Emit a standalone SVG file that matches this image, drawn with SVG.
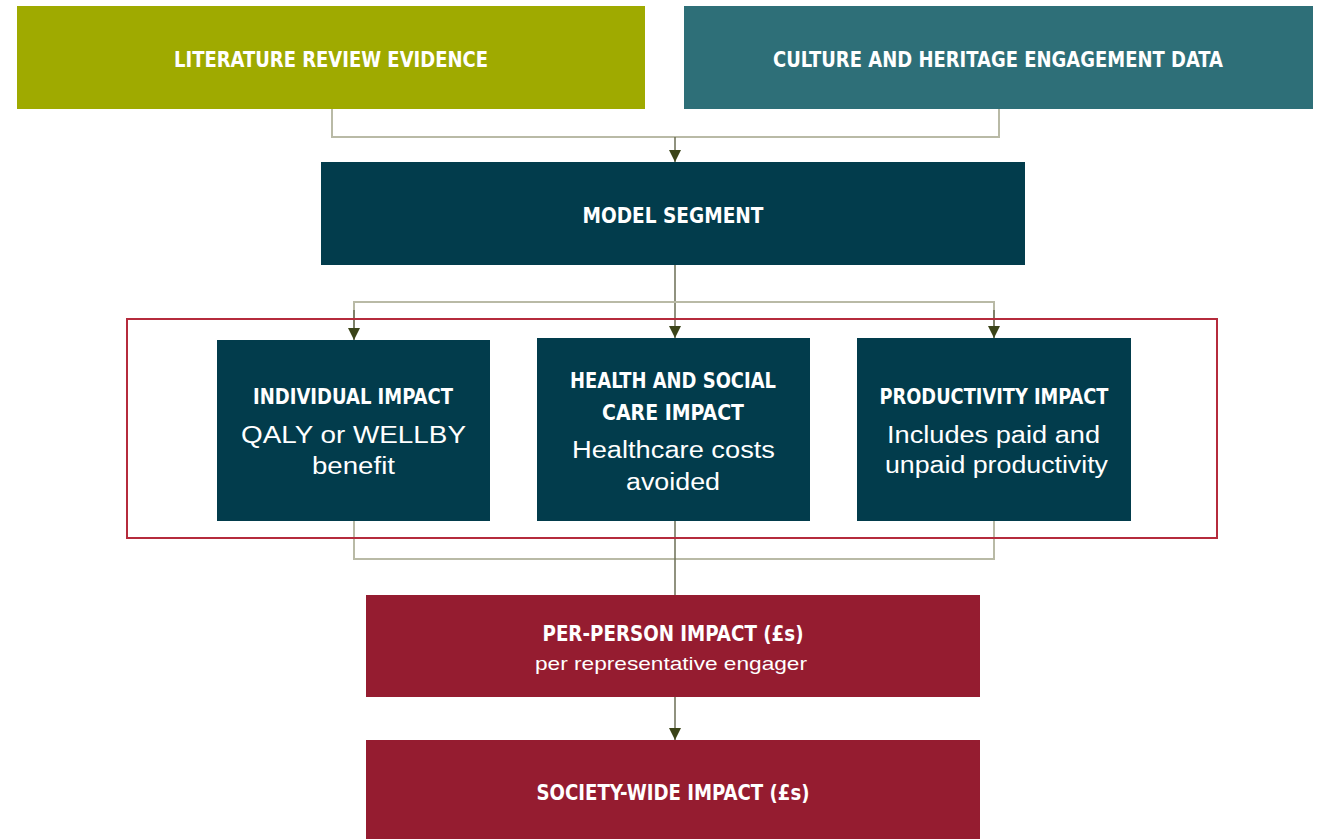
<svg xmlns="http://www.w3.org/2000/svg" width="1325" height="839" viewBox="0 0 1325 839">
<style>
.h{font-family:"Liberation Sans Narrow","DejaVu Sans Condensed","Liberation Sans",sans-serif;font-weight:bold;font-size:22px;fill:#fff;text-anchor:middle}
.b{font-family:"Liberation Sans",Arial,sans-serif;font-size:23px;fill:#fff;text-anchor:middle}
.s{font-family:"Liberation Sans",Arial,sans-serif;font-size:19px;fill:#fff;text-anchor:middle}
.ln{fill:none;stroke:#b9baa6;stroke-width:2}
.ld{fill:none;stroke:#6b6e55;stroke-width:1.5}
</style>
<defs>
<marker id="ah" viewBox="0 0 10 10" refX="10" refY="5" markerWidth="12" markerHeight="12" markerUnits="userSpaceOnUse" orient="auto">
<path d="M0,0 L10,5 L0,10 Z" fill="#3b4418"/>
</marker>
</defs>
<rect width="1325" height="839" fill="#fff"/>
<g id="connectors">
<polyline class="ln" points="332,109 332,137 999,137 999,109"/>
<line class="ld" x1="675" y1="137" x2="675" y2="162" marker-end="url(#ah)"/>
<line class="ld" x1="675" y1="265" x2="675" y2="338" marker-end="url(#ah)"/>
<polyline class="ln" points="354,339 354,302 994,302 994,338"/>
<line class="ld" x1="354" y1="310" x2="354" y2="340" marker-end="url(#ah)"/>
<line class="ld" x1="994" y1="310" x2="994" y2="338" marker-end="url(#ah)"/>
<polyline class="ln" points="354,521 354,559 994,559 994,521"/>
<line class="ld" x1="675" y1="521" x2="675" y2="595"/>
<line class="ld" x1="675" y1="697" x2="675" y2="740" marker-end="url(#ah)"/>
</g>
<rect id="frame" x="127" y="319" width="1090" height="219" fill="none" stroke="#b52b3c" stroke-width="2"/>
<g id="literature">
<rect x="17" y="6" width="628" height="103" fill="#9faa00"/>
<text class="h" x="331" y="67" textLength="314" lengthAdjust="spacingAndGlyphs">LITERATURE REVIEW EVIDENCE</text>
</g>
<g id="culture">
<rect x="684" y="6" width="629" height="103" fill="#2e6f78"/>
<text class="h" x="998" y="67" textLength="450" lengthAdjust="spacingAndGlyphs">CULTURE AND HERITAGE ENGAGEMENT DATA</text>
</g>
<g id="model">
<rect x="321" y="162" width="704" height="103" fill="#023c4c"/>
<text class="h" x="673" y="223" textLength="181" lengthAdjust="spacingAndGlyphs">MODEL SEGMENT</text>
</g>
<g id="individual">
<rect x="217" y="340" width="273" height="181" fill="#023c4c"/>
<text class="h" x="353" y="404" textLength="200" lengthAdjust="spacingAndGlyphs">INDIVIDUAL IMPACT</text>
<text class="b" x="353.5" y="443" textLength="225" lengthAdjust="spacingAndGlyphs">QALY or WELLBY</text>
<text class="b" x="353.5" y="474" textLength="83" lengthAdjust="spacingAndGlyphs">benefit</text>
</g>
<g id="health">
<rect x="537" y="338" width="273" height="183" fill="#023c4c"/>
<text class="h" x="673" y="388" textLength="206" lengthAdjust="spacingAndGlyphs">HEALTH AND SOCIAL</text>
<text class="h" x="673" y="420" textLength="142" lengthAdjust="spacingAndGlyphs">CARE IMPACT</text>
<text class="b" x="673.5" y="458" textLength="203" lengthAdjust="spacingAndGlyphs">Healthcare costs</text>
<text class="b" x="673" y="490" textLength="94" lengthAdjust="spacingAndGlyphs">avoided</text>
</g>
<g id="productivity">
<rect x="857" y="338" width="274" height="183" fill="#023c4c"/>
<text class="h" x="994" y="404" textLength="229" lengthAdjust="spacingAndGlyphs">PRODUCTIVITY IMPACT</text>
<text class="b" x="993.5" y="443" textLength="213" lengthAdjust="spacingAndGlyphs">Includes paid and</text>
<text class="b" x="996.5" y="473" textLength="223" lengthAdjust="spacingAndGlyphs">unpaid productivity</text>
</g>
<g id="perperson">
<rect x="366" y="595" width="614" height="102" fill="#951c30"/>
<text class="h" x="673" y="641" textLength="261" lengthAdjust="spacingAndGlyphs">PER-PERSON IMPACT (£s)</text>
<text class="s" x="671" y="670" textLength="272" lengthAdjust="spacingAndGlyphs">per representative engager</text>
</g>
<g id="society">
<rect x="366" y="740" width="614" height="110" fill="#951c30"/>
<text class="h" x="673" y="800" textLength="273" lengthAdjust="spacingAndGlyphs">SOCIETY-WIDE IMPACT (£s)</text>
</g>
</svg>
